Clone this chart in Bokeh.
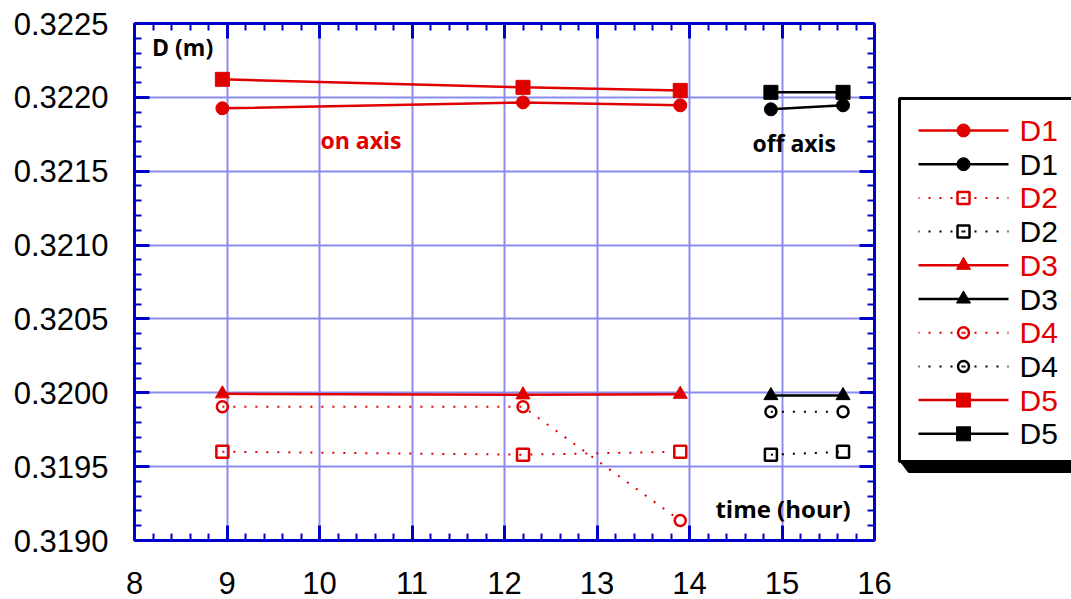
from bokeh.plotting import figure
from bokeh.models import Range1d, LinearAxis, FixedTicker, PrintfTickFormatter, Label, CustomJSTickFormatter
from bokeh.layouts import row
from bokeh.core.properties import value
from bokeh.embed import file_html
from bokeh.resources import INLINE

# ---------------- data ----------------
x_on = [8.95, 12.20, 13.90]
x_off = [14.88, 15.66]

on_D1 = [0.321926, 0.321966, 0.321946]
off_D1 = [0.321919, 0.321946]
on_D2 = [0.319601, 0.319581, 0.319601]
off_D2 = [0.319581, 0.319600]
on_D3 = [0.319993, 0.319986, 0.319990]
off_D3 = [0.319981, 0.319981]
on_D4 = [0.319905, 0.319905, 0.319135]
off_D4 = [0.319872, 0.319872]
on_D5 = [0.322122, 0.322068, 0.322047]
off_D5 = [0.322034, 0.322034]

x_ticks = [8, 9, 10, 11, 12, 13, 14, 15, 16]
y_ticks = [0.3190, 0.3195, 0.3200, 0.3205, 0.3210, 0.3215, 0.3220, 0.3225]

RED = "#e00000"
BLACK = "#000000"
BLUE = "#0000cc"
GRID = "#8c8cee"

# name, x, y, color, marker, dash, filled
series = [
    ("D1", x_on, on_D1, RED, "circle", "solid", True),
    ("D1", x_off, off_D1, BLACK, "circle", "solid", True),
    ("D2", x_on, on_D2, RED, "square", "2 9", False),
    ("D2", x_off, off_D2, BLACK, "square", "2 9", False),
    ("D3", x_on, on_D3, RED, "triangle", "solid", True),
    ("D3", x_off, off_D3, BLACK, "triangle", "solid", True),
    ("D4", x_on, on_D4, RED, "circle", "2 9", False),
    ("D4", x_off, off_D4, BLACK, "circle", "2 9", False),
    ("D5", x_on, on_D5, RED, "square", "solid", True),
    ("D5", x_off, off_D5, BLACK, "square", "solid", True),
]

def msize(marker, filled):
    if marker == "circle":
        return 13 if filled else 11
    if marker == "square":
        return 14 if filled else 12
    return 14

TOP, BOTTOM = 23, 59

# ---------------- main figure ----------------
p = figure(width=895, height=599, x_range=Range1d(8, 16), y_range=Range1d(0.3190, 0.3225),
           output_backend="svg", toolbar_location=None,
           min_border_left=134, min_border_right=21, min_border_top=TOP, min_border_bottom=BOTTOM)
p.outline_line_color = None
p.background_fill_color = "white"
p.border_fill_color = "white"

x_minor = [8 + 0.2 * i for i in range(41)]
y_minor = [0.3190 + 0.0001 * i for i in range(36)]
xt = FixedTicker(ticks=x_ticks, minor_ticks=x_minor)
yt = FixedTicker(ticks=y_ticks, minor_ticks=y_minor)

def style_axis(ax, ticker, labels):
    ax.ticker = ticker
    ax.axis_line_color = BLUE
    ax.axis_line_width = 3
    ax.major_tick_line_color = BLUE
    ax.major_tick_line_width = 3
    ax.major_tick_in = 15
    ax.major_tick_out = 0
    ax.minor_tick_line_color = BLUE
    ax.minor_tick_line_width = 2
    ax.minor_tick_in = 7
    ax.minor_tick_out = 0
    if labels:
        ax.major_label_text_font = "Liberation Sans"
        ax.major_label_text_font_size = "31px"
        ax.major_label_text_color = "black"
    else:
        ax.formatter = CustomJSTickFormatter(code="return ''")
        ax.major_label_text_font_size = "0px"
        ax.major_label_standoff = 0

xa = p.xaxis[0]
ya = p.yaxis[0]
style_axis(xa, xt, True)
style_axis(ya, yt, True)
ya.formatter = PrintfTickFormatter(format="%.4f")
xa.major_label_standoff = 31
ya.major_label_standoff = 26

ra = LinearAxis()
style_axis(ra, yt, False)
p.add_layout(ra, "right")
ta = LinearAxis()
style_axis(ta, xt, False)
p.add_layout(ta, "above")

p.xgrid.ticker = xt
p.ygrid.ticker = yt
for g in (p.xgrid[0], p.ygrid[0]):
    g.grid_line_color = GRID
    g.grid_line_width = 2
    g.grid_line_alpha = 1.0

for name, xs, ys, col, mk, dash, filled in series:
    p.line(xs, ys, line_color=col, line_width=2.5 if dash == "solid" else 2, line_dash=dash)
    p.scatter(xs, ys, marker=mk, size=msize(mk, filled), line_color=col,
              line_width=1 if filled else 2.5,
              fill_color=col if filled else None)

bold = dict(text_font="Open Sans", text_font_style="bold", text_font_size="23px",
            text_baseline="middle", text_align="left")
p.add_layout(Label(x=8.19, y=0.32234, text="D (m)", text_color=BLACK, **bold))
p.add_layout(Label(x=10.01, y=0.32171, text="on axis", text_color=RED, **bold))
p.add_layout(Label(x=14.68, y=0.32169, text="off axis", text_color=BLACK, **bold))
bold_t = dict(bold)
bold_t["text_font_size"] = "24px"
p.add_layout(Label(x=14.28, y=0.31922, text="time (hour)", text_color=BLACK, **bold_t))

# ---------------- legend panel (pixel-like coordinates) ----------------
leg = figure(width=176, height=599, x_range=Range1d(0, 176), y_range=Range1d(599 - BOTTOM, TOP),
             output_backend="svg", toolbar_location=None,
             min_border_left=0, min_border_right=0, min_border_top=TOP, min_border_bottom=BOTTOM,
             x_axis_location=None, y_axis_location=None)
leg.grid.visible = False
leg.outline_line_color = None

leg.patch([4, 176, 176, 13], [460, 460, 472, 472], color="black")
leg.quad(left=[4], right=[182], top=[98], bottom=[461], fill_color="white",
         line_color="black", line_width=3)

row_y = [130 + i * 33.7 for i in range(len(series))]
mx, lx0, lx1, tx = 68, 23, 113, 124
for (name, xs, ys, col, mk, dash, filled), yy in zip(series, row_y):
    lw = 2.5 if dash == "solid" else 2
    leg.segment(x0=[mx, mx], y0=[yy, yy], x1=[lx0, lx1], y1=[yy, yy],
                line_color=col, line_width=lw, line_dash=dash)
    leg.scatter([mx], [yy], marker=mk, size=msize(mk, filled), line_color=col,
                line_width=1 if filled else 2.5, fill_color=col if filled else None)

leg.text(x=[tx] * len(series), y=row_y, text=[s[0] for s in series],
         text_color=[s[3] for s in series], text_font=value("Liberation Sans"),
         text_font_size="30px", text_baseline="middle", text_align="left")

layout = row(p, leg, spacing=0)
open("out.html", "w").write(file_html(layout, INLINE))
